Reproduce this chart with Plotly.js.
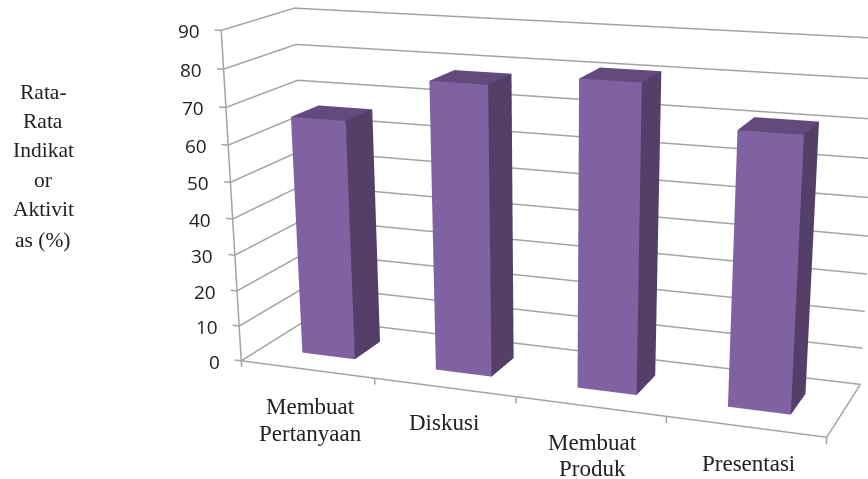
<!DOCTYPE html>
<html><head><meta charset="utf-8"><script src="https://cdn.plot.ly/plotly-3.0.0.min.js"></script>
<style>html,body{margin:0;padding:0;background:#fff;overflow:hidden;width:868px;height:479px}#c{position:absolute;left:0;top:-384.5px}</style></head>
<body><div id="c"></div>
<script>
// data
const categories=['Membuat Pertanyaan','Diskusi','Membuat Produk','Presentasi'];
const values=[66,78,81,71];
const zticks=[0,10,20,30,40,50,60,70,80,90];
const yTitleLines=['Rata-','Rata','Indikat','or','Aktivit','as (%)'];
const categoryLines=[['Membuat','Pertanyaan'],['Diskusi'],['Membuat','Produk'],['Presentasi']];

// view: the picture is a perspective 3D column chart, so a 3D scene draws it
const W=976,H=1529,topY=-384.5;
const aspect={x:2,y:0.4949,z:1.1136};
const eye0=[2.0331,-5.3832,1.4934];
const forward=[-0.36024,0.86885,-0.33959];
const up={x:-0.11847,y:0.31848,z:0.94050};
const xMax=4,zMax=90,yMax=1;
const xRange=[-0.05,4.02],yRange=[-0.01,1.01],zRange=[-1.8,91];
const tickDownZ=-1.8,tickLeftX=-0.05;
const barStart=0.31,barEnd=0.71,depthStart=0.3,depthEnd=0.7;
const C={front:'#8062a2',side:'#543f68',top:'#634a7e',line:'#a3a3a3',text:'#222'};

const bars=values.map((v,n)=>{const x0=n+barStart,x1=n+barEnd,y0=depthStart,y1=depthEnd;
 return {type:'mesh3d',name:categories[n],x:[x0,x1,x1,x0,x0,x1,x1,x0],y:[y0,y0,y1,y1,y0,y0,y1,y1],z:[0,0,0,0,v,v,v,v],
 i:[0,0,1,1,4,4],j:[1,5,2,6,5,6],k:[5,4,6,5,6,7],facecolor:[C.front,C.front,C.side,C.side,C.top,C.top],
 flatshading:true,lighting:{ambient:1,diffuse:0,specular:0,fresnel:0,roughness:1},hoverinfo:'skip',showscale:false};});

const gx=[],gy=[],gz=[];
function seg(pts){pts.forEach(q=>{gx.push(q[0]);gy.push(q[1]);gz.push(q[2])});gx.push(null);gy.push(null);gz.push(null);}
zticks.forEach(z=>seg([[tickLeftX,0,z],[0,0,z],[0,yMax,z],[xMax,yMax,z]]));
seg([[0,0,tickDownZ],[0,0,zMax]]);
seg([[0,0,0],[xMax,0,0],[xMax,yMax,0]]);
categories.forEach((c,n)=>seg([[n+1,0,tickDownZ],[n+1,0,0]]));
const frame={type:'scatter3d',mode:'lines',x:gx,y:gy,z:gz,line:{color:C.line,width:3},hoverinfo:'skip',showlegend:false};

// keep the fitted view when the ranges are padded
const sx=aspect.x/xMax, sy=aspect.y/yMax, sz=aspect.z/zMax;
const shiftX=sx*(xMax-xRange[0]-xRange[1])/2,shiftY=sy*(yMax-yRange[0]-yRange[1])/2,shiftZ=sz*(zMax-zRange[0]-zRange[1])/2;
const eye={x:eye0[0]+shiftX,y:eye0[1]+shiftY,z:eye0[2]+shiftZ};
const center={x:eye.x+forward[0],y:eye.y+forward[1],z:eye.z+forward[2]};

const toX=x=>x/W,toY=y=>1-(y-topY)/H;
const serif={family:'"Liberation Serif",serif',size:21.5,color:C.text};
const titlePos=[[43,91],[43,120],[43,149],[43,179],[43,208],[43,239]];
const catPos=[[[310,406],[310,433]],[[444,422]],[[592,442],[592,468]],[[748,463]]];
const base={xref:'paper',yref:'paper',showarrow:false,xanchor:'center',yanchor:'middle'};
const annotations=[
 ...yTitleLines.map((t,i)=>({...base,text:t,x:toX(titlePos[i][0]),y:toY(titlePos[i][1]),font:serif})),
 ...categoryLines.flatMap((ls,c)=>ls.map((t,i)=>({...base,text:t,x:toX(catPos[c][i][0]),y:toY(catPos[c][i][1]),font:{...serif,size:23}})))
];
const tickLabels=zticks.map(z=>({x:0,y:0,z:z,text:String(z),showarrow:false,xanchor:'right',yanchor:'middle',xshift:-19.5,yshift:-1,
 font:{family:'"Open Sans",sans-serif',size:19,color:C.text}}));

Plotly.newPlot('c',[frame,...bars],{width:W,height:H,margin:{l:0,r:0,t:0,b:0},paper_bgcolor:'#fff',showlegend:false,annotations:annotations,
 scene:{domain:{x:[0,1],y:[0,1]},aspectmode:'manual',
 aspectratio:{x:sx*(xRange[1]-xRange[0]),y:sy*(yRange[1]-yRange[0]),z:sz*(zRange[1]-zRange[0])},annotations:tickLabels,
 camera:{eye:eye,center:center,up:up,projection:{type:'perspective'}},
 xaxis:{visible:false,range:xRange},yaxis:{visible:false,range:yRange},zaxis:{visible:false,range:zRange}}},
 {displayModeBar:false});
</script></body></html>
